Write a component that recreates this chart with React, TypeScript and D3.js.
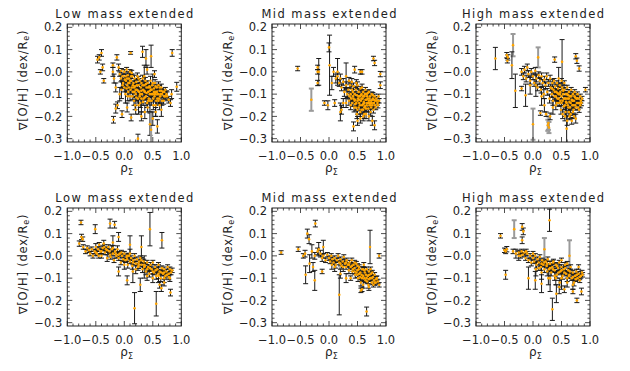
import React from "react";
import * as d3 from "d3";

type P = [number, number, number, number?];

const lowTop: P[] = [
  [-0.47, 0.055, 0.015], [-0.44, 0.065, 0.012], [-0.4, 0.085, 0.015], [-0.38, 0.02, 0.015], [-0.36, -0.04, 0.01], [-0.42, 0.0, 0.01],
  [-0.13, 0.065, 0.012], [-0.2, 0.03, 0.01], [0.11, 0.085, 0.006], [0.32, 0.09, 0.025], [0.38, 0.06, 0.04], [0.47, 0.07, 0.05], [0.84, 0.085, 0.015],
  [0.4, 0.01, 0.02], [0.53, -0.01, 0.015],
  [-0.19, -0.215, 0.015], [-0.15, -0.165, 0.02], [-0.12, -0.15, 0.015], [-0.04, -0.19, 0.015], [0.12, -0.205, 0.015], [0.24, -0.3, 0.02],
  [0.45, -0.235, 0.05], [0.47, -0.26, 0.08, 1], [0.5, -0.21, 0.03], [0.58, -0.245, 0.03], [0.36, -0.18, 0.03], [0.3, -0.2, 0.02], [0.2, -0.17, 0.02],
  [0.05, -0.16, 0.02], [0.81, -0.14, 0.015], [0.78, -0.125, 0.015], [0.92, -0.067, 0.02], [0.75, -0.11, 0.02], [0.83, -0.1, 0.02], [0.65, -0.17, 0.03],
  [0.55, -0.18, 0.02], [-0.08, -0.1, 0.03], [-0.15, -0.07, 0.02], [-0.18, -0.03, 0.02], [-0.2, 0.0, 0.02], [-0.1, 0.02, 0.015],
  [-0.08, -0.01, 0.01], [-0.06, -0.03, 0.015], [-0.05, 0.005, 0.01], [-0.03, -0.02, 0.01], [-0.02, -0.05, 0.015], [0.0, 0.0, 0.01], [0.0, -0.07, 0.02],
  [0.02, -0.02, 0.01], [0.03, -0.04, 0.01], [0.04, 0.01, 0.01], [0.05, -0.06, 0.015], [0.06, -0.015, 0.01], [0.07, -0.09, 0.02], [0.08, -0.03, 0.01],
  [0.09, -0.05, 0.01], [0.1, -0.0, 0.01], [0.1, -0.11, 0.02], [0.12, -0.04, 0.01], [0.13, -0.07, 0.015], [0.14, -0.02, 0.01], [0.15, -0.09, 0.02],
  [0.16, -0.05, 0.01], [0.17, -0.13, 0.02], [0.18, -0.03, 0.015], [0.19, -0.065, 0.01], [0.2, -0.1, 0.015], [0.21, -0.045, 0.01], [0.22, -0.08, 0.01],
  [0.23, -0.02, 0.015], [0.24, -0.12, 0.02], [0.25, -0.06, 0.01], [0.26, -0.09, 0.015], [0.27, -0.04, 0.01], [0.28, -0.14, 0.02], [0.29, -0.07, 0.01],
  [0.3, -0.05, 0.01], [0.31, -0.1, 0.015], [0.32, -0.03, 0.015], [0.33, -0.08, 0.01], [0.34, -0.12, 0.02], [0.35, -0.06, 0.01], [0.36, -0.09, 0.01],
  [0.37, -0.04, 0.015], [0.38, -0.11, 0.015], [0.39, -0.07, 0.01], [0.4, -0.14, 0.02], [0.41, -0.05, 0.01], [0.42, -0.09, 0.01], [0.43, -0.12, 0.015],
  [0.44, -0.065, 0.01], [0.45, -0.1, 0.015], [0.46, -0.04, 0.02], [0.47, -0.08, 0.01], [0.48, -0.13, 0.02], [0.49, -0.06, 0.01], [0.5, -0.1, 0.01],
  [0.51, -0.15, 0.02], [0.52, -0.075, 0.01], [0.53, -0.11, 0.015], [0.54, -0.05, 0.015], [0.55, -0.09, 0.01], [0.56, -0.13, 0.02], [0.57, -0.07, 0.01],
  [0.58, -0.1, 0.01], [0.6, -0.06, 0.015], [0.61, -0.12, 0.015], [0.62, -0.085, 0.01], [0.64, -0.1, 0.01], [0.65, -0.07, 0.015], [0.66, -0.13, 0.02],
  [0.68, -0.09, 0.01], [0.7, -0.11, 0.015], [0.72, -0.08, 0.01], [0.74, -0.1, 0.015],
  [0.2, -0.08, 0.05], [0.3, -0.12, 0.06], [0.45, -0.13, 0.05], [0.1, -0.04, 0.04], [0.5, -0.05, 0.04], [0.6, -0.1, 0.04], [0.35, -0.02, 0.05],
  [0.02, -0.1, 0.04], [-0.05, -0.08, 0.04], [0.25, -0.15, 0.04], [0.55, -0.15, 0.05],
  [0.05, -0.03, 0.01], [0.15, -0.06, 0.01], [0.25, -0.03, 0.01], [0.35, -0.085, 0.01], [0.45, -0.085, 0.01], [0.55, -0.065, 0.01], [0.65, -0.085, 0.01],
  [0.12, -0.02, 0.01], [0.22, -0.06, 0.01], [0.32, -0.06, 0.01], [0.42, -0.07, 0.01], [0.52, -0.09, 0.01], [0.62, -0.07, 0.01], [0.7, -0.09, 0.01],
  [0.08, -0.07, 0.01], [0.18, -0.09, 0.01], [0.28, -0.1, 0.01], [0.38, -0.055, 0.01], [0.48, -0.1, 0.01], [0.58, -0.12, 0.01],
  [0.01, -0.035, 0.012], [0.04, -0.075, 0.015], [0.07, -0.05, 0.012], [0.11, -0.08, 0.015], [0.14, -0.11, 0.015], [0.17, -0.07, 0.012],
  [0.21, -0.115, 0.015], [0.24, -0.085, 0.012], [0.27, -0.11, 0.015], [0.3, -0.085, 0.012], [0.33, -0.135, 0.015], [0.36, -0.115, 0.012],
  [0.39, -0.095, 0.012], [0.42, -0.13, 0.015], [0.45, -0.07, 0.012], [0.48, -0.08, 0.012], [0.51, -0.12, 0.015], [0.54, -0.1, 0.012],
  [0.57, -0.09, 0.012], [0.6, -0.13, 0.015], [0.63, -0.11, 0.012], [0.66, -0.1, 0.012], [0.69, -0.13, 0.015], [0.72, -0.11, 0.012],
  [0.06, -0.11, 0.02], [0.19, -0.15, 0.02], [0.41, -0.16, 0.02], [0.62, -0.15, 0.02], [-0.03, -0.06, 0.015], [0.13, -0.005, 0.012],
];

const midTop: P[] = [
  [-0.55, 0.015, 0.01], [-0.31, -0.125, 0.05, 1], [-0.2, 0.02, 0.01], [-0.2, 0.0, 0.01], [-0.2, -0.05, 0.012], [-0.18, 0.0, 0.06], [-0.08, -0.14, 0.01],
  [-0.02, -0.15, 0.02], [0.0, 0.11, 0.02], [0.01, 0.03, 0.135], [0.05, -0.05, 0.03], [0.1, -0.14, 0.015], [0.15, 0.0, 0.06], [0.2, -0.18, 0.04],
  [0.22, -0.17, 0.02], [0.3, -0.02, 0.06], [0.25, -0.14, 0.02], [0.12, -0.03, 0.02], [0.08, 0.0, 0.02], [0.43, -0.245, 0.02], [0.78, 0.06, 0.01],
  [0.8, 0.04, 0.012], [0.9, -0.01, 0.012], [0.9, -0.06, 0.015], [0.8, -0.24, 0.02], [0.76, -0.22, 0.02], [0.6, -0.2, 0.02], [0.5, -0.22, 0.02],
  [0.45, 0.01, 0.015], [0.55, -0.0, 0.01], [0.58, 0.0, 0.01],
  [0.15, -0.02, 0.015], [0.18, -0.05, 0.015], [0.2, -0.03, 0.02], [0.22, -0.07, 0.015], [0.25, -0.045, 0.015], [0.27, -0.09, 0.02], [0.3, -0.06, 0.015],
  [0.32, -0.1, 0.015], [0.34, -0.08, 0.01], [0.35, -0.13, 0.02], [0.37, -0.06, 0.015], [0.38, -0.1, 0.01], [0.4, -0.08, 0.015], [0.41, -0.14, 0.015],
  [0.42, -0.11, 0.01], [0.43, -0.065, 0.015], [0.44, -0.16, 0.02], [0.45, -0.1, 0.01], [0.46, -0.125, 0.01], [0.47, -0.08, 0.01], [0.48, -0.14, 0.015],
  [0.49, -0.105, 0.01], [0.5, -0.06, 0.015], [0.5, -0.17, 0.02], [0.51, -0.12, 0.01], [0.52, -0.09, 0.01], [0.53, -0.14, 0.01], [0.54, -0.11, 0.01],
  [0.55, -0.075, 0.01], [0.55, -0.18, 0.02], [0.56, -0.13, 0.01], [0.57, -0.1, 0.01], [0.58, -0.15, 0.01], [0.59, -0.12, 0.01], [0.6, -0.09, 0.01],
  [0.6, -0.17, 0.015], [0.61, -0.135, 0.01], [0.62, -0.11, 0.01], [0.63, -0.155, 0.01], [0.64, -0.08, 0.01], [0.64, -0.125, 0.01], [0.65, -0.19, 0.02],
  [0.66, -0.1, 0.01], [0.67, -0.14, 0.01], [0.68, -0.12, 0.01], [0.69, -0.165, 0.015], [0.7, -0.09, 0.01], [0.7, -0.13, 0.01], [0.71, -0.15, 0.01],
  [0.72, -0.11, 0.01], [0.73, -0.18, 0.015], [0.74, -0.13, 0.01], [0.75, -0.1, 0.01], [0.76, -0.15, 0.01], [0.77, -0.12, 0.01], [0.78, -0.17, 0.015],
  [0.79, -0.14, 0.01], [0.8, -0.11, 0.01], [0.81, -0.13, 0.01], [0.82, -0.16, 0.01], [0.83, -0.12, 0.01], [0.85, -0.14, 0.01], [0.87, -0.11, 0.01],
  [0.88, -0.13, 0.01],
  [0.35, -0.04, 0.015], [0.4, -0.045, 0.015], [0.48, -0.05, 0.015], [0.52, -0.16, 0.015], [0.58, -0.07, 0.015], [0.62, -0.19, 0.02], [0.66, -0.15, 0.01],
  [0.72, -0.14, 0.01], [0.76, -0.125, 0.01], [0.56, -0.105, 0.01], [0.46, -0.145, 0.01], [0.66, -0.125, 0.01], [0.53, -0.125, 0.01], [0.74, -0.16, 0.01],
  [0.68, -0.095, 0.01], [0.43, -0.12, 0.01], [0.38, -0.15, 0.02], [0.3, -0.14, 0.02], [0.62, -0.14, 0.01], [0.6, -0.11, 0.01], [0.7, -0.2, 0.02],
  [0.55, -0.21, 0.02],
  [0.36, -0.11, 0.012], [0.39, -0.12, 0.012], [0.42, -0.09, 0.012], [0.45, -0.13, 0.012], [0.47, -0.16, 0.015], [0.5, -0.13, 0.012],
  [0.52, -0.11, 0.012], [0.54, -0.15, 0.012], [0.57, -0.12, 0.012], [0.57, -0.17, 0.015], [0.6, -0.145, 0.012], [0.63, -0.1, 0.012],
  [0.65, -0.165, 0.012], [0.67, -0.11, 0.012], [0.69, -0.14, 0.012], [0.71, -0.12, 0.012], [0.73, -0.15, 0.012], [0.75, -0.14, 0.012],
  [0.77, -0.105, 0.012], [0.79, -0.125, 0.012], [0.81, -0.15, 0.012], [0.84, -0.13, 0.012], [0.86, -0.15, 0.012], [0.49, -0.19, 0.02],
  [0.62, -0.16, 0.012],
];

const highTop: P[] = [
  [-0.66, 0.06, 0.05], [-0.46, 0.075, 0.012], [-0.44, 0.065, 0.012], [-0.45, 0.05, 0.01], [-0.35, 0.12, 0.05, 1], [-0.37, 0.03, 0.06], [-0.31, -0.085, 0.075],
  [-0.2, -0.075, 0.01], [-0.13, -0.105, 0.05], [0.0, -0.235, 0.07, 1], [0.09, 0.065, 0.045, 1], [0.26, -0.24, 0.025, 1], [0.27, -0.23, 0.03, 1],
  [0.28, -0.25, 0.025, 1], [0.13, -0.185, 0.01], [0.23, -0.19, 0.01], [0.3, -0.2, 0.015], [0.38, 0.055, 0.012], [0.51, 0.045, 0.1], [0.59, -0.255, 0.1],
  [0.75, 0.07, 0.012], [0.77, 0.05, 0.012], [0.81, 0.015, 0.012], [0.92, -0.08, 0.01], [-0.05, -0.06, 0.04], [0.05, -0.06, 0.05], [0.15, -0.11, 0.04],
  [0.2, -0.15, 0.03], [0.35, -0.16, 0.03],
  [-0.2, 0.0, 0.015], [-0.17, -0.02, 0.015], [-0.15, 0.01, 0.015], [-0.12, -0.03, 0.015], [-0.1, 0.02, 0.015], [-0.08, -0.01, 0.015], [-0.05, -0.04, 0.015],
  [-0.03, 0.0, 0.015], [0.0, -0.02, 0.015], [0.02, -0.05, 0.015], [0.04, 0.005, 0.015], [0.06, -0.03, 0.015], [0.08, -0.07, 0.015], [0.1, -0.015, 0.015],
  [0.12, -0.04, 0.015], [0.14, -0.08, 0.015], [0.15, -0.02, 0.015], [0.17, -0.05, 0.015], [0.19, -0.1, 0.02], [0.2, -0.035, 0.015], [0.22, -0.06, 0.015],
  [0.24, -0.02, 0.015], [0.25, -0.09, 0.015], [0.27, -0.05, 0.015], [0.29, -0.12, 0.02], [0.3, -0.03, 0.015], [0.31, -0.07, 0.015], [0.33, -0.1, 0.015],
  [0.34, -0.05, 0.015], [0.35, -0.13, 0.02], [0.36, -0.08, 0.015], [0.37, -0.04, 0.01], [0.38, -0.11, 0.015], [0.39, -0.065, 0.01], [0.4, -0.15, 0.02],
  [0.41, -0.09, 0.01], [0.42, -0.05, 0.01], [0.43, -0.12, 0.015], [0.44, -0.075, 0.01], [0.45, -0.1, 0.01], [0.46, -0.14, 0.015], [0.47, -0.06, 0.01],
  [0.48, -0.09, 0.01], [0.49, -0.17, 0.02], [0.5, -0.11, 0.01], [0.51, -0.07, 0.01], [0.52, -0.13, 0.01], [0.53, -0.1, 0.01], [0.54, -0.155, 0.015],
  [0.55, -0.08, 0.01], [0.56, -0.12, 0.01], [0.57, -0.18, 0.02], [0.58, -0.1, 0.01], [0.59, -0.14, 0.01], [0.6, -0.07, 0.01], [0.61, -0.12, 0.01],
  [0.62, -0.16, 0.015], [0.63, -0.09, 0.01], [0.64, -0.135, 0.01], [0.65, -0.11, 0.01], [0.66, -0.19, 0.02], [0.67, -0.08, 0.01], [0.68, -0.125, 0.01],
  [0.69, -0.15, 0.01], [0.7, -0.1, 0.01], [0.71, -0.17, 0.015], [0.72, -0.13, 0.01], [0.73, -0.09, 0.01], [0.74, -0.15, 0.01], [0.75, -0.21, 0.02],
  [0.76, -0.12, 0.01], [0.77, -0.14, 0.01], [0.78, -0.1, 0.01], [0.79, -0.16, 0.01], [0.8, -0.12, 0.01], [0.82, -0.14, 0.01], [0.83, -0.11, 0.01],
  [0.84, -0.13, 0.01], [0.86, -0.12, 0.01],
  [0.45, -0.03, 0.05], [0.5, -0.04, 0.01], [0.55, -0.05, 0.01], [0.48, -0.13, 0.01], [0.58, -0.12, 0.01], [0.62, -0.105, 0.01], [0.66, -0.14, 0.01],
  [0.7, -0.13, 0.01], [0.74, -0.115, 0.01], [0.53, -0.085, 0.01], [0.43, -0.095, 0.01], [0.63, -0.18, 0.015], [0.56, -0.2, 0.02], [0.68, -0.22, 0.015],
  [0.6, -0.22, 0.02], [0.72, -0.2, 0.01], [0.38, -0.09, 0.01], [0.33, -0.075, 0.01], [0.52, -0.19, 0.02],
  [0.4, -0.11, 0.012], [0.42, -0.14, 0.012], [0.45, -0.12, 0.012], [0.47, -0.1, 0.012], [0.5, -0.14, 0.012], [0.52, -0.08, 0.012],
  [0.54, -0.12, 0.012], [0.56, -0.15, 0.012], [0.58, -0.135, 0.012], [0.6, -0.1, 0.012], [0.61, -0.15, 0.012], [0.63, -0.12, 0.012],
  [0.65, -0.16, 0.012], [0.67, -0.11, 0.012], [0.69, -0.13, 0.012], [0.71, -0.15, 0.012], [0.73, -0.11, 0.012], [0.75, -0.16, 0.012],
  [0.77, -0.12, 0.012], [0.79, -0.14, 0.012], [0.81, -0.17, 0.012], [0.83, -0.15, 0.012], [0.85, -0.14, 0.012], [0.64, -0.2, 0.015],
  [0.7, -0.18, 0.015],
];

const lowBottom: P[] = [
  [-0.76, 0.15, 0.01], [-0.79, 0.055, 0.012], [-0.75, 0.085, 0.012], [-0.73, 0.075, 0.01], [-0.51, 0.12, 0.02], [-0.25, 0.145, 0.02], [-0.17, 0.14, 0.015],
  [-0.1, 0.085, 0.02], [0.45, 0.12, 0.075], [0.66, 0.07, 0.035], [0.18, -0.235, 0.07], [0.56, -0.215, 0.055], [0.81, -0.165, 0.015], [0.65, -0.145, 0.015],
  [0.62, -0.13, 0.015], [0.7, -0.12, 0.015], [0.05, -0.11, 0.02], [0.28, -0.13, 0.03], [-0.2, 0.06, 0.03], [0.1, 0.05, 0.04], [0.3, 0.04, 0.05],
  [0.35, -0.05, 0.05], [0.15, -0.07, 0.05], [-0.1, -0.07, 0.02], [0.6, -0.08, 0.04],
  [-0.72, 0.04, 0.01], [-0.68, 0.02, 0.01], [-0.65, 0.035, 0.01], [-0.6, 0.01, 0.01], [-0.57, 0.03, 0.01], [-0.55, 0.0, 0.01], [-0.52, 0.02, 0.01],
  [-0.5, 0.04, 0.015], [-0.48, 0.01, 0.01], [-0.46, 0.03, 0.01], [-0.44, 0.05, 0.01], [-0.42, 0.02, 0.01], [-0.4, 0.0, 0.01], [-0.38, 0.035, 0.01],
  [-0.36, 0.055, 0.015], [-0.34, 0.015, 0.01], [-0.32, 0.03, 0.01], [-0.3, -0.01, 0.015], [-0.28, 0.04, 0.01], [-0.26, 0.02, 0.01], [-0.24, -0.005, 0.01],
  [-0.22, 0.03, 0.015], [-0.2, 0.01, 0.01], [-0.18, -0.02, 0.01], [-0.16, 0.02, 0.01], [-0.14, 0.0, 0.01], [-0.12, 0.03, 0.015], [-0.1, -0.01, 0.01],
  [-0.08, 0.01, 0.01], [-0.06, -0.03, 0.01], [-0.04, 0.0, 0.01], [-0.02, -0.015, 0.01], [0.0, 0.01, 0.01], [0.02, -0.02, 0.01], [0.04, -0.005, 0.01],
  [0.06, -0.04, 0.015], [0.08, 0.0, 0.01], [0.1, -0.025, 0.01], [0.12, -0.01, 0.01], [0.14, -0.045, 0.015], [0.16, -0.02, 0.01], [0.18, 0.0, 0.01],
  [0.2, -0.035, 0.01], [0.22, -0.015, 0.01], [0.24, -0.05, 0.015], [0.26, -0.025, 0.01], [0.28, -0.01, 0.01], [0.3, -0.04, 0.01], [0.32, -0.06, 0.015],
  [0.34, -0.025, 0.01], [0.36, -0.045, 0.01], [0.38, -0.07, 0.015], [0.4, -0.03, 0.01], [0.42, -0.05, 0.01], [0.44, -0.08, 0.015], [0.46, -0.04, 0.01],
  [0.48, -0.06, 0.01], [0.5, -0.03, 0.01], [0.52, -0.075, 0.01], [0.54, -0.05, 0.01], [0.56, -0.09, 0.015], [0.58, -0.06, 0.01], [0.6, -0.04, 0.01],
  [0.62, -0.07, 0.01], [0.64, -0.1, 0.015], [0.66, -0.055, 0.01], [0.68, -0.08, 0.01], [0.7, -0.06, 0.01], [0.72, -0.09, 0.01], [0.74, -0.07, 0.01],
  [0.76, -0.05, 0.01], [0.78, -0.08, 0.01], [0.8, -0.06, 0.01], [0.82, -0.075, 0.01], [0.84, -0.065, 0.01],
  [-0.62, 0.025, 0.01], [-0.45, 0.0, 0.01], [-0.35, 0.04, 0.01], [-0.25, 0.005, 0.01], [-0.15, 0.01, 0.01], [-0.05, 0.015, 0.01], [0.05, -0.015, 0.01],
  [0.15, -0.03, 0.01], [0.25, -0.035, 0.01], [0.35, -0.04, 0.01], [0.45, -0.055, 0.01], [0.55, -0.065, 0.01], [0.65, -0.075, 0.01], [0.75, -0.085, 0.01],
  [-0.3, 0.025, 0.01], [0.0, -0.04, 0.02], [0.1, 0.01, 0.02], [0.2, -0.06, 0.02], [0.4, -0.09, 0.02], [0.5, -0.1, 0.02], [0.7, -0.1, 0.02],
  [0.8, -0.1, 0.015],
  [-0.5, 0.015, 0.012], [-0.4, 0.02, 0.012], [-0.2, 0.035, 0.012], [-0.1, 0.005, 0.012], [0.05, 0.0, 0.012], [0.25, -0.045, 0.012],
  [0.4, -0.06, 0.012], [0.5, -0.07, 0.012], [0.6, -0.09, 0.012], [0.7, -0.075, 0.012], [0.78, -0.095, 0.012], [0.3, -0.02, 0.012],
];

const midBottom: P[] = [
  [-0.84, 0.015, 0.008], [-0.54, 0.03, 0.01], [-0.38, 0.1, 0.02], [-0.35, 0.075, 0.02], [-0.24, 0.145, 0.015], [-0.41, -0.085, 0.04], [-0.25, -0.11, 0.045],
  [-0.34, -0.035, 0.04], [-0.18, 0.03, 0.03], [-0.12, -0.07, 0.01], [0.18, -0.175, 0.09], [0.66, -0.25, 0.02], [0.72, 0.04, 0.075], [0.88, 0.0, 0.01],
  [0.56, -0.155, 0.01], [0.58, -0.15, 0.01], [-0.45, 0.0, 0.01], [-0.42, 0.01, 0.015], [-0.3, 0.02, 0.03], [-0.28, -0.05, 0.02], [-0.1, 0.04, 0.03],
  [0.3, -0.1, 0.02], [0.2, -0.08, 0.02], [0.38, -0.1, 0.01],
  [-0.25, 0.0, 0.015], [-0.2, 0.02, 0.015], [-0.15, 0.01, 0.015], [-0.12, -0.01, 0.015], [-0.1, 0.0, 0.01], [-0.06, -0.02, 0.01], [-0.03, 0.005, 0.01],
  [0.0, -0.01, 0.01], [0.02, -0.025, 0.01], [0.04, 0.0, 0.01], [0.06, -0.015, 0.01], [0.08, -0.03, 0.01], [0.1, -0.01, 0.01], [0.12, -0.04, 0.015],
  [0.14, -0.02, 0.01], [0.16, 0.0, 0.01], [0.18, -0.03, 0.01], [0.2, -0.015, 0.01], [0.22, -0.045, 0.01], [0.24, -0.025, 0.01], [0.26, -0.005, 0.01],
  [0.28, -0.035, 0.01], [0.3, -0.05, 0.01], [0.31, -0.02, 0.01], [0.33, -0.04, 0.01], [0.35, -0.065, 0.015], [0.36, -0.03, 0.01], [0.38, -0.05, 0.01],
  [0.4, -0.02, 0.01], [0.41, -0.07, 0.01], [0.43, -0.04, 0.01], [0.45, -0.055, 0.01], [0.46, -0.085, 0.015], [0.48, -0.035, 0.01], [0.5, -0.065, 0.01],
  [0.51, -0.1, 0.015], [0.53, -0.05, 0.01], [0.55, -0.075, 0.01], [0.56, -0.12, 0.015], [0.58, -0.06, 0.01], [0.6, -0.09, 0.01], [0.61, -0.04, 0.01],
  [0.63, -0.075, 0.01], [0.64, -0.11, 0.01], [0.66, -0.06, 0.01], [0.68, -0.09, 0.01], [0.69, -0.13, 0.015], [0.7, -0.07, 0.01], [0.72, -0.1, 0.01],
  [0.74, -0.08, 0.01], [0.75, -0.12, 0.01], [0.77, -0.095, 0.01], [0.79, -0.11, 0.01], [0.8, -0.085, 0.01], [0.82, -0.12, 0.01], [0.84, -0.1, 0.01],
  [0.86, -0.115, 0.01], [0.88, -0.13, 0.01],
  [0.2, -0.035, 0.01], [0.3, -0.03, 0.01], [0.4, -0.045, 0.01], [0.45, -0.03, 0.01], [0.5, -0.045, 0.01], [0.55, -0.095, 0.01], [0.6, -0.06, 0.01],
  [0.62, -0.1, 0.01], [0.65, -0.085, 0.01], [0.7, -0.105, 0.01], [0.73, -0.06, 0.01], [0.76, -0.075, 0.01], [0.78, -0.13, 0.01], [0.53, -0.08, 0.01],
  [0.48, -0.075, 0.01], [0.58, -0.1, 0.01], [0.67, -0.115, 0.01], [0.42, -0.06, 0.01], [0.35, -0.04, 0.01], [0.25, -0.05, 0.02], [0.6, -0.13, 0.015],
  [0.7, -0.14, 0.015], [0.1, -0.05, 0.02], [0.05, -0.04, 0.02],
  [0.45, -0.07, 0.012], [0.52, -0.06, 0.012], [0.57, -0.085, 0.012], [0.62, -0.065, 0.012], [0.66, -0.1, 0.012], [0.71, -0.085, 0.012],
  [0.75, -0.1, 0.012], [0.8, -0.12, 0.012], [0.83, -0.105, 0.012], [0.5, -0.085, 0.012],
];

const highBottom: P[] = [
  [-0.57, 0.09, 0.01], [-0.5, 0.025, 0.01], [-0.46, 0.03, 0.012], [-0.48, 0.02, 0.01], [-0.48, -0.085, 0.02], [-0.33, 0.12, 0.04, 1], [-0.35, 0.02, 0.01],
  [-0.19, 0.13, 0.015], [-0.17, 0.11, 0.015], [-0.19, 0.07, 0.015], [0.29, 0.16, 0.05], [-0.08, -0.1, 0.05], [0.04, -0.11, 0.04], [0.15, -0.125, 0.04],
  [0.34, -0.24, 0.05], [0.41, -0.17, 0.04], [0.46, -0.14, 0.03], [0.77, -0.2, 0.01], [0.87, -0.085, 0.01], [0.64, 0.0, 0.07, 1], [0.2, 0.03, 0.05, 1],
  [0.3, -0.1, 0.06], [0.5, -0.1, 0.05], [-0.25, 0.0, 0.02], [-0.3, 0.01, 0.02], [0.85, -0.16, 0.015], [0.7, -0.16, 0.01], [0.55, -0.15, 0.015],
  [-0.25, 0.015, 0.01], [-0.22, 0.0, 0.01], [-0.2, 0.02, 0.01], [-0.18, 0.005, 0.01], [-0.15, 0.015, 0.01], [-0.13, -0.01, 0.01], [-0.1, 0.01, 0.01],
  [-0.08, -0.02, 0.01], [-0.05, 0.0, 0.01], [-0.03, -0.03, 0.015], [0.0, -0.01, 0.01], [0.02, -0.025, 0.01], [0.04, 0.0, 0.01], [0.06, -0.04, 0.015],
  [0.08, -0.015, 0.01], [0.1, -0.03, 0.01], [0.12, -0.005, 0.01], [0.14, -0.05, 0.015], [0.16, -0.02, 0.01], [0.18, -0.04, 0.01], [0.2, -0.06, 0.015],
  [0.22, -0.025, 0.01], [0.24, -0.045, 0.01], [0.26, -0.015, 0.01], [0.28, -0.06, 0.01], [0.3, -0.035, 0.01], [0.32, -0.075, 0.015], [0.34, -0.05, 0.01],
  [0.36, -0.025, 0.01], [0.38, -0.065, 0.01], [0.4, -0.04, 0.01], [0.42, -0.085, 0.015], [0.44, -0.055, 0.01], [0.46, -0.03, 0.01], [0.48, -0.07, 0.01],
  [0.5, -0.05, 0.01], [0.52, -0.09, 0.015], [0.54, -0.06, 0.01], [0.56, -0.04, 0.01], [0.58, -0.08, 0.01], [0.6, -0.1, 0.015], [0.62, -0.065, 0.01],
  [0.64, -0.085, 0.01], [0.66, -0.05, 0.01], [0.68, -0.1, 0.01], [0.7, -0.075, 0.01], [0.72, -0.12, 0.015], [0.74, -0.09, 0.01], [0.76, -0.07, 0.01],
  [0.78, -0.1, 0.01], [0.8, -0.08, 0.01], [0.82, -0.11, 0.01], [0.84, -0.09, 0.01], [0.86, -0.075, 0.01],
  [-0.12, 0.02, 0.01], [0.0, 0.01, 0.01], [0.1, -0.055, 0.01], [0.2, -0.03, 0.01], [0.3, -0.055, 0.01], [0.35, -0.03, 0.01], [0.45, -0.075, 0.01],
  [0.55, -0.075, 0.01], [0.65, -0.07, 0.01], [0.75, -0.105, 0.01], [0.25, -0.07, 0.02], [0.15, -0.075, 0.03], [0.05, -0.06, 0.03], [0.4, -0.1, 0.03],
  [0.6, -0.12, 0.02], [0.7, -0.13, 0.02], [0.8, -0.05, 0.01], [0.5, -0.02, 0.01], [0.6, -0.035, 0.01], [0.38, -0.09, 0.02], [0.47, -0.12, 0.02],
  [0.27, -0.1, 0.03],
  [0.35, -0.06, 0.012], [0.42, -0.045, 0.012], [0.5, -0.065, 0.012], [0.57, -0.055, 0.012], [0.63, -0.09, 0.012], [0.7, -0.095, 0.012],
  [0.77, -0.085, 0.012], [0.82, -0.095, 0.012], [0.25, -0.035, 0.012], [0.15, -0.035, 0.012],
];

const titles = ["Low mass extended", "Mid mass extended", "High mass extended"];
const titleWidths = [138, 135, 142];
const xTickValues = [-1, -0.5, 0, 0.5, 1];
const xTickLabels = ["\u22121.0", "\u22120.5", "0.0", "0.5", "1.0"];
const yTickValues = [-0.3, -0.2, -0.1, 0, 0.1, 0.2];
const yTickLabels = ["\u22120.3", "\u22120.2", "\u22120.1", "\u22120.0", "0.1", "0.2"];
const panelData: P[][] = [lowTop, midTop, highTop, lowBottom, midBottom, highBottom];

const boxLefts = [67.3, 272, 476];
const boxTops = [24, 208];
const boxW = 114;
const boxH = 118;
const ink = "#222";
const font = "'DejaVu Sans', sans-serif";

function Panel({ idx }: { idx: number }) {
  const col = idx % 3;
  const row = Math.floor(idx / 3);
  const L = boxLefts[col];
  const T = boxTops[row];
  const x = d3.scaleLinear().domain([-1, 1]).range([L, L + boxW]);
  const y = d3.scaleLinear().domain([-0.315, 0.215]).range([T + boxH, T]);
  const data = panelData[idx];
  const xMinor = d3.range(-10, 11).map((i) => i / 10);
  const yMinor = d3.range(-15, 11).map((i) => i / 50);
  const B = T + boxH;
  const R = L + boxW;
  const major = 5;
  const minor = 2.5;
  return (
    <g>
      {data.map((d, i) => {
        const gray = d[3] === 1;
        const px = x(d[0]);
        const y1 = Math.max(T, y(d[1] + d[2]));
        const y2 = Math.min(B, y(d[1] - d[2]));
        return (
          <g key={"e" + i} stroke={gray ? "#9a9a9a" : "#1a1a1a"} strokeWidth={gray ? 2 : 1}>
            <line x1={px} x2={px} y1={y1} y2={y2} />
            {y(d[1] + d[2]) >= T && <line x1={px - 2.5} x2={px + 2.5} y1={y1} y2={y1} />}
            {y(d[1] - d[2]) <= B && <line x1={px - 2.5} x2={px + 2.5} y1={y2} y2={y2} />}
          </g>
        );
      })}
      {data.map((d, i) => (
        <circle key={"p" + i} cx={x(d[0])} cy={y(d[1])} r={1.3} fill="#ffa500" />
      ))}
      <rect x={L} y={T} width={boxW} height={boxH} fill="none" stroke={ink} strokeWidth={1} />
      <g stroke={ink} strokeWidth={0.8}>
        {xMinor.map((v, i) => {
          const len = Math.abs(v * 2 - Math.round(v * 2)) < 1e-6 ? major : minor;
          return (
            <g key={"xt" + i}>
              <line x1={x(v)} x2={x(v)} y1={B} y2={B - len} />
              <line x1={x(v)} x2={x(v)} y1={T} y2={T + len} />
            </g>
          );
        })}
        {yMinor.map((v, i) => {
          const len = Math.abs(v * 10 - Math.round(v * 10)) < 1e-6 ? major : minor;
          return (
            <g key={"yt" + i}>
              <line x1={L} x2={L + len} y1={y(v)} y2={y(v)} />
              <line x1={R} x2={R - len} y1={y(v)} y2={y(v)} />
            </g>
          );
        })}
      </g>
      <g fontFamily={font} fontSize={11.5} fill={ink}>
        {xTickValues.map((v, i) => (
          <text key={"xl" + i} x={x(v)} y={B + 17.5} textAnchor="middle">
            {xTickLabels[i]}
          </text>
        ))}
        {yTickValues.map((v, i) => (
          <text key={"yl" + i} x={L - 5} y={y(v)} dy="0.36em" textAnchor="end">
            {yTickLabels[i]}
          </text>
        ))}
      </g>
      <text
        x={L + boxW / 2}
        y={T - 5.7}
        textAnchor="middle"
        fontFamily={font}
        fontSize={11.5}
        fill={ink}
        textLength={titleWidths[col]}
        lengthAdjust="spacing"
      >
        {titles[col]}
      </text>
      <text x={L + boxW / 2 - 4} y={B + 30} fontFamily={font} fontSize={12} fill={ink}>
        ρ
        <tspan fontSize={8} dy={3}>
          Σ
        </tspan>
      </text>
      <text
        transform={`translate(${L - 40},${T + boxH / 2 - 3}) rotate(-90)`}
        textAnchor="middle"
        fontFamily={font}
        fontSize={11.5}
        fill={ink}
        letterSpacing={0.8}
      >
        ∇[O/H] (dex/R
        <tspan fontSize={8} dy={2}>
          e
        </tspan>
        <tspan dy={-2}>)</tspan>
      </text>
    </g>
  );
}

export default function App() {
  return (
    <svg
      width={630}
      height={371}
      style={{ position: "absolute", left: 0, top: 0, background: "#fff" }}
    >
      <rect x={0} y={0} width={630} height={371} fill="#fff" />
      {panelData.map((_, i) => (
        <Panel key={i} idx={i} />
      ))}
    </svg>
  );
}
